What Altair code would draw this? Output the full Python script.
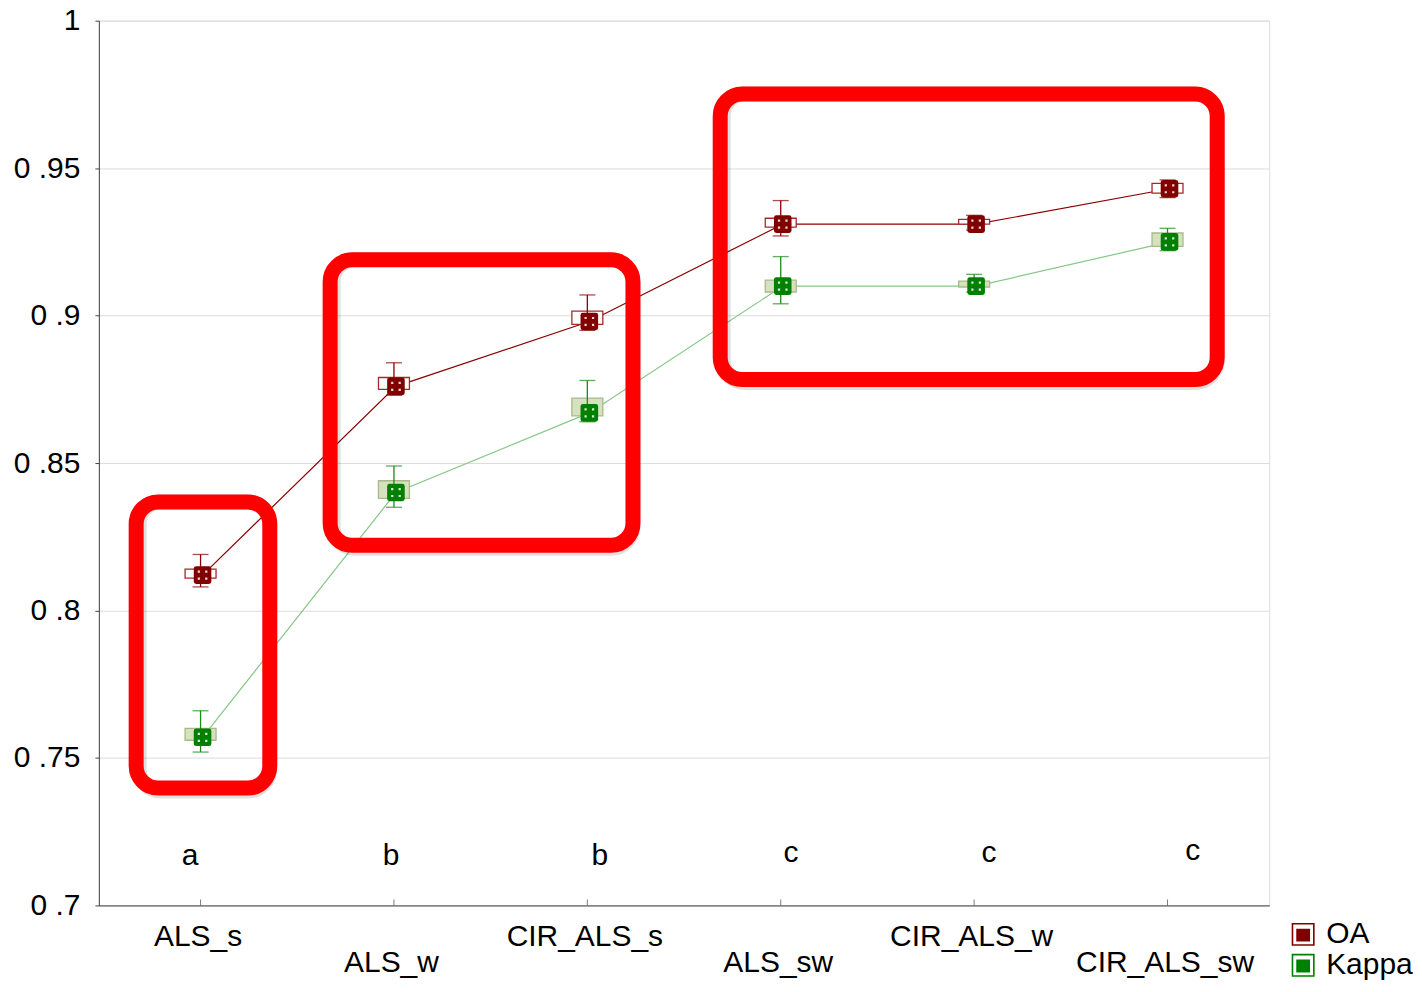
import json
import altair as alt
import pandas as pd

# ---------------- data ----------------
categories = ["ALS_s", "ALS_w", "CIR_ALS_s", "ALS_sw", "CIR_ALS_w", "CIR_ALS_sw"]
positions = [1, 2, 3, 4, 5, 6]

oa_mean = [0.812, 0.876, 0.898, 0.931, 0.931, 0.943]
oa_box_lo = [0.811, 0.875, 0.897, 0.930, 0.931, 0.9415]
oa_box_hi = [0.814, 0.879, 0.9015, 0.933, 0.9326, 0.9448]
oa_wh_lo = [0.808, 0.873, 0.895, 0.927, 0.929, 0.940]
oa_wh_hi = [0.819, 0.884, 0.907, 0.939, 0.934, 0.946]

kappa_mean = [0.757, 0.840, 0.867, 0.910, 0.910, 0.925]
kappa_box_lo = [0.756, 0.838, 0.866, 0.908, 0.9097, 0.9235]
kappa_box_hi = [0.760, 0.844, 0.872, 0.912, 0.9117, 0.928]
kappa_wh_lo = [0.752, 0.835, 0.864, 0.904, 0.908, 0.922]
kappa_wh_hi = [0.766, 0.849, 0.878, 0.920, 0.914, 0.9296]

series_names = ["OA", "Kappa"]

group_letters = ["a", "b", "b", "c", "c", "c"]
letter_x = [0.946, 1.985, 3.065, 4.053, 5.077, 6.131]
letter_y = [0.7166, 0.7166, 0.7169, 0.7176, 0.7179, 0.7183]

# red highlight frames (data units)
frame_x1 = [0.667, 1.670, 3.687]
frame_x2 = [1.358, 3.236, 6.257]
frame_y1 = [0.7398, 0.8221, 0.8783]
frame_y2 = [0.8368, 0.9189, 0.9751]

y_tick_values = [0.7, 0.75, 0.8, 0.85, 0.9, 0.95, 1.0]
y_tick_labels = ["0 .7", "0 .75", "0 .8", "0 .85", "0 .9", "0 .95", "1"]

# ---------------- tables ----------------
rows = []
for name, m, blo, bhi, wlo, whi in [
    ("OA", oa_mean, oa_box_lo, oa_box_hi, oa_wh_lo, oa_wh_hi),
    ("Kappa", kappa_mean, kappa_box_lo, kappa_box_hi, kappa_wh_lo, kappa_wh_hi),
]:
    for i, p in enumerate(positions):
        rows.append({"series": name, "pos": p, "cat": categories[i], "mean": m[i],
                     "box_lo": blo[i], "box_hi": bhi[i], "w_lo": wlo[i], "w_hi": whi[i]})
df = pd.DataFrame(rows)
df_cat = pd.DataFrame({"pos": positions, "cat": categories})
df_letters = pd.DataFrame({"x": letter_x, "y": letter_y, "t": group_letters})
df_frames = pd.DataFrame({"x1": frame_x1, "x2": frame_x2, "y1": frame_y1, "y2": frame_y2})

FONT = "Liberation Sans"
x_scale = alt.Scale(domain=[0.5, 6.5], nice=False, zero=False)
y_scale = alt.Scale(domain=[0.7, 1.0], nice=False, zero=False)

names_js = json.dumps(categories)
x_label_expr = (f"(datum.value % 2 == 0) ? ['', {names_js}[datum.value - 1]] : "
                f"{names_js}[datum.value - 1]")
y_label_expr = f"{json.dumps(y_tick_labels)}[round((datum.value - 0.7) / 0.05)]"

x_axis = alt.Axis(values=positions, labelExpr=x_label_expr, ticks=False, grid=False,
                  title=None, labelFontSize=30, labelFont=FONT, labelColor="black",
                  labelPadding=16, labelLineHeight=26, labelAngle=0, labelOverlap=False,
                  labelBound=False, labelFlush=False, labelOffset=-3,
                  domainColor="#444444")
y_axis = alt.Axis(values=y_tick_values, labelExpr=y_label_expr, title=None,
                  labelFontSize=30, labelFont=FONT, labelColor="black", labelPadding=15,
                  tickSize=4, tickColor="#444444", domainColor="#444444", grid=True,
                  gridColor="#DCDCDC", gridWidth=1, labelOverlap=False, labelBound=False,
                  labelFlush=False)


def X(field):
    return alt.X(field, scale=x_scale, axis=x_axis)


def Y(field):
    return alt.Y(field, scale=y_scale, axis=y_axis)


base = alt.Chart(df)

# inward x ticks at the category positions
ticks = alt.Chart(df_cat).mark_tick(orient="vertical", size=6, thickness=1,
                                    color="#444444", yOffset=-3).encode(
    x=X("pos:Q"),
    y=Y("y:Q"),
).transform_calculate(y="0.7")

ROUNDED = ("M-0.72,-1 H0.72 Q1,-1 1,-0.72 V0.72 Q1,1 0.72,1 H-0.72 Q-1,1 -1,0.72 "
           "V-0.72 Q-1,-1 -0.72,-1 Z")
DOTS = ("M-0.55,-0.52 h0.25 v0.25 h-0.25 Z M0.3,-0.52 h0.25 v0.25 h-0.25 Z "
        "M-0.55,0.27 h0.25 v0.25 h-0.25 Z M0.3,0.27 h0.25 v0.25 h-0.25 Z")
LEGEND_SYM = ("M-1,-1 H1 V1 H-1 Z M-0.86,-0.86 V0.86 H0.86 V-0.86 Z "
              "M-0.6,-0.5 H0.6 V0.62 H-0.6 Z")

MOFF = 2


def series_layers(name, line_color, box_fill, box_stroke, wh_color):
    b = base.transform_filter(alt.datum.series == name)
    line = b.mark_line(color=line_color, strokeWidth=1.2, xOffset=MOFF).encode(
        x=X("pos:Q"), y=Y("mean:Q"),
    )
    box = b.mark_bar(size=31, fill=box_fill, stroke=box_stroke, strokeWidth=1.3).encode(
        x=X("pos:Q"), y=Y("box_lo:Q"), y2="box_hi:Q",
    )
    rule = b.mark_rule(color=wh_color, strokeWidth=1.3).encode(
        x=X("pos:Q"), y=Y("w_lo:Q"), y2="w_hi:Q",
    )
    cap_lo = b.mark_tick(orient="horizontal", size=16, thickness=1.3, color=wh_color).encode(
        x=X("pos:Q"), y=Y("w_lo:Q"),
    )
    cap_hi = b.mark_tick(orient="horizontal", size=16, thickness=1.3, color=wh_color).encode(
        x=X("pos:Q"), y=Y("w_hi:Q"),
    )
    return [line, box, rule, cap_lo, cap_hi]


oa_layers = series_layers("OA", "#8B0000", "#FFFFFF", "#A52A2A", "#8B0000")
kappa_layers = series_layers("Kappa", "#86C786", "#D6E2BE", "#A9B98C", "#1A8C1A")

markers = base.mark_point(shape=ROUNDED, filled=True, size=310, opacity=1,
                          xOffset=MOFF).encode(
    x=X("pos:Q"),
    y=Y("mean:Q"),
    color=alt.Color("series:N",
                    scale=alt.Scale(domain=series_names, range=["#800000", "#008000"]),
                    legend=alt.Legend(orient="none", legendX=1191, legendY=900, title=None,
                                      labelFontSize=30, labelFont=FONT, labelColor="black",
                                      symbolType=LEGEND_SYM, symbolSize=529,
                                      symbolStrokeWidth=0, labelOffset=8, rowPadding=1,
                                      padding=0, symbolOpacity=1)),
)
dots = base.mark_point(shape=DOTS, filled=True, size=310, color="white", opacity=0.85,
                       xOffset=MOFF).encode(
    x=X("pos:Q"),
    y=Y("mean:Q"),
)

letters = alt.Chart(df_letters).mark_text(fontSize=30, font=FONT, color="black",
                                          align="center", baseline="middle").encode(
    x=X("x:Q"),
    y=Y("y:Q"),
    text="t:N",
)

frame_shadow = alt.Chart(df_frames).mark_rect(filled=False, color="#000000", opacity=0.12,
                                              strokeWidth=15, cornerRadius=22,
                                              xOffset=3, yOffset=3).encode(
    x=X("x1:Q"), x2="x2:Q", y=Y("y1:Q"), y2="y2:Q",
)
frames = alt.Chart(df_frames).mark_rect(filled=False, color="#FF0000", opacity=1,
                                        strokeWidth=15, cornerRadius=22).encode(
    x=X("x1:Q"), x2="x2:Q", y=Y("y1:Q"), y2="y2:Q",
)

chart = alt.layer(
    ticks, *kappa_layers, *oa_layers, markers, dots, letters, frame_shadow, frames
).properties(
    width=1172, height=886,
    padding={"left": 91, "top": 12, "right": 145, "bottom": 74},
    autosize=alt.AutoSizeParams(type="none"),
).configure_view(stroke="#444444", strokeWidth=1).configure(font=FONT)

chart.save("out.html", embed_options={"renderer": "svg", "actions": False})
